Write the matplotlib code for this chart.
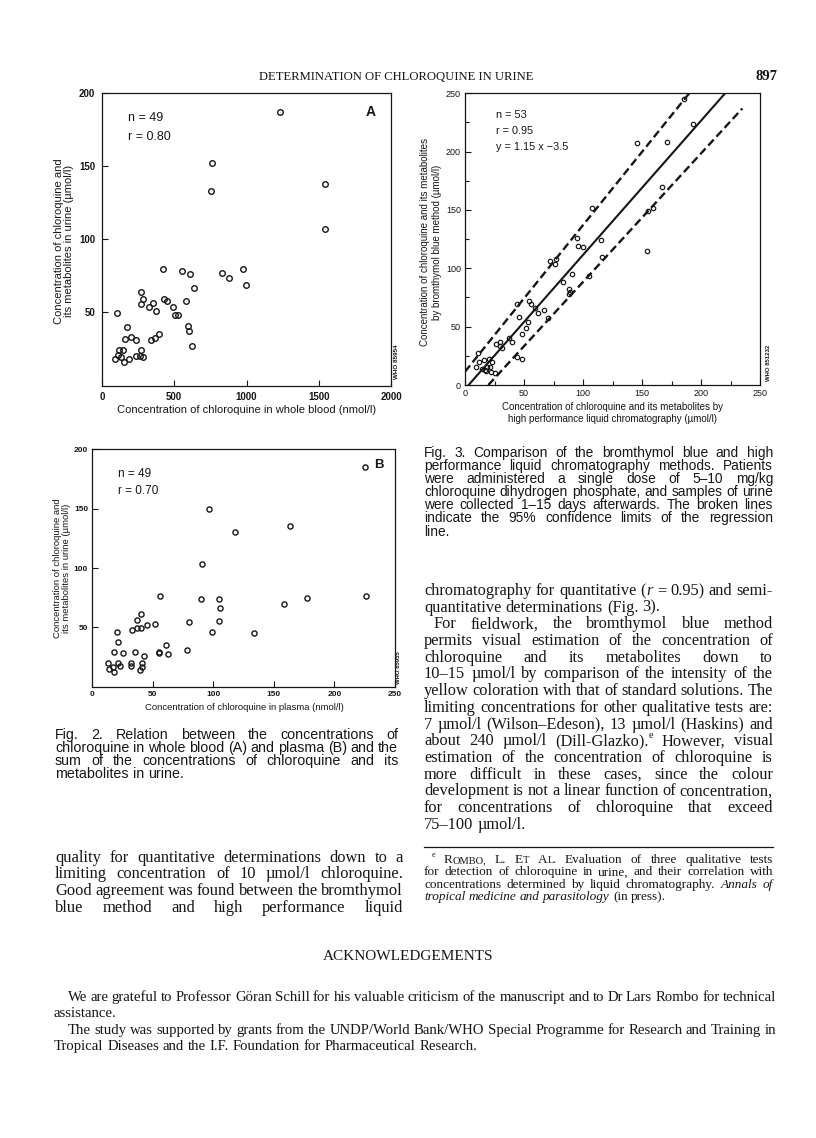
import matplotlib
matplotlib.use("Agg")
import matplotlib.pyplot as plt
from matplotlib.font_manager import FontProperties
from matplotlib.ticker import MultipleLocator

W, H = 816, 1138
SANS = "Liberation Sans"
SERIF = "Liberation Serif"
INK = "#161616"

# Fig. 2A: chloroquine in whole blood (nmol/l) vs chloroquine + metabolites in urine (umol/l)
blood_a = [1230, 760, 755, 1540, 1545,
           420, 551, 609, 639, 833, 881, 978, 994,
           268, 282, 268, 328, 351, 374, 429, 452, 493, 505, 528, 579,
           597, 604, 625, 101,
           159, 171, 201, 233, 339, 367, 392,
           90, 120, 143, 129, 154, 189, 233, 268, 282, 263, 112]
urine_a = [187, 152, 133, 138, 107,
           80, 78, 76, 67, 77, 73.5, 80, 69,
           64, 59, 55.7, 53.4, 56.3, 51, 59.3, 57.5, 53.4, 48, 48, 58,
           41, 37.6, 27, 49.5,
           31.7, 40, 33, 30.8, 30.8, 32.4, 34.9,
           18.3, 24, 24, 19.4, 16, 18.3, 20.5, 24, 19.4, 20.5, 21]

# Fig. 2B: chloroquine in plasma (nmol/l) vs urine (umol/l)
plasma_b = [225, 96, 163, 118, 91, 56, 90, 105, 105.5, 104.6, 79.6, 98.6, 133.3, 158, 177.3, 226.2,
            20.1, 21, 33, 36.7, 40.2, 37.2, 40.5, 45.4, 52,
            18.2, 25.6, 35, 60.9, 55.1, 54.8, 62.3, 78.5, 43,
            12.7, 21.2, 23.1, 13.5, 16.8, 18.2, 31.7, 32.2, 41.3, 40.8, 39.1]
urine_b = [185, 150, 135.7, 130, 103.4, 76.7, 74, 74, 66, 55.6, 54.5, 45.8, 45, 69.7, 75, 76.4,
           46, 37.4, 48, 56.2, 61.2, 49.5, 49.5, 52, 52.5,
           29, 28.4, 29.5, 35.4, 28.1, 29.5, 27.6, 31.2, 25.6,
           19.7, 20.2, 17.2, 14.7, 16.6, 12.4, 20.2, 17.4, 20.2, 16.8, 13.8]

# Fig. 3: HPLC (umol/l) vs bromthymol blue method (umol/l)
hplc = [186, 193, 146, 171, 167, 159, 155, 154, 115, 116, 108, 95, 96, 100,
        72, 77, 76, 91, 83, 88, 88, 89, 105, 54, 56, 59, 62, 67, 44, 46,
        52, 53, 48, 70, 37, 40, 30, 26, 30, 31, 44, 48,
        11, 12, 16, 20, 23, 9, 14, 19, 21, 17, 22, 25, 18]
btb = [245, 224, 207, 208, 170, 152, 149, 115, 124, 110, 152, 126, 119, 118,
       106, 108, 104, 95, 88, 82, 78, 80, 93, 72, 69, 66, 62, 64, 69, 58,
       49, 54, 44, 57, 40, 37, 37, 35, 33, 32, 24, 22,
       27, 20, 21, 22, 20, 15, 14, 15, 15, 13, 11, 10, 12]
reg_slope, reg_icept = 1.15, -3.5
upper_x, upper_y = [0, 190], [11.4, 250]
lower_x, lower_y = [19.8, 235], [0, 237]


def fx(x):
    return x / W


def fy(y):
    return 1 - y / H


def px_axes(fig, left, top, right, bottom):
    return fig.add_axes([fx(left), fy(bottom), (right - left) / W, (bottom - top) / H])


def style_axes(ax, size, weight, pad):
    for sp in ax.spines.values():
        sp.set_linewidth(0.9)
        sp.set_color(INK)
    ax.tick_params(which="both", direction="in", colors=INK, width=0.8, pad=pad)
    ax.tick_params(which="major", length=4)
    ax.tick_params(which="minor", length=3)
    for lbl in ax.get_xticklabels() + ax.get_yticklabels():
        lbl.set_fontfamily(SANS)
        lbl.set_fontsize(size)
        lbl.set_fontweight(weight)


def ftext(fig, x, y, s, **kw):
    kw.setdefault("color", INK)
    kw.setdefault("family", SANS)
    return fig.text(fx(x), fy(y), s, **kw)


def text_block(fig, rend, lines, x0, x1, y0, step, family, size):
    """Place lines word by word, justified between x0 and x1 (pixels)."""
    def segs_of(word, sz):
        out = []
        for s in word.split("|"):
            style, ssz, dy = "normal", sz, 0.0
            while s and s[0] in "*^~":
                c, s = s[0], s[1:]
                if c == "*":
                    style = "italic"
                elif c == "^":
                    ssz, dy = sz * 0.62, sz * 1.389 * 0.42
                else:
                    ssz = sz * 0.8
            fp = FontProperties(family=family, style=style, size=ssz)
            w = rend.get_text_width_height_descent(s, fp, ismath=False)[0]
            out.append((s, fp, w, dy))
        return out

    def layout(sz):
        fp = FontProperties(family=family, size=sz)
        sp = (rend.get_text_width_height_descent("x x", fp, ismath=False)[0]
              - rend.get_text_width_height_descent("xx", fp, ismath=False)[0])
        rows = []
        for txt, just, indent in lines:
            words = [segs_of(w, sz) for w in txt.split()]
            widths = [sum(s[2] for s in wd) for wd in words]
            rows.append((words, widths, just, indent))
        return sp, rows

    sz = size
    for _ in range(6):
        sp, rows = layout(sz)
        worst = max((sum(r[1]) + sp * 0.8 * (len(r[1]) - 1)) / (x1 - x0 - r[3]) for r in rows)
        if worst <= 1.0:
            break
        sz *= 0.99 / worst
    for i, (words, widths, just, indent) in enumerate(rows):
        y = y0 + i * step
        start = x0 + indent
        if just and len(words) > 1:
            gap = (x1 - start - sum(widths)) / (len(words) - 1)
        else:
            gap = sp
        x = start
        for wd, w in zip(words, widths):
            xx = x
            for s, fp, sw, dy in wd:
                fig.text(fx(xx), fy(y) + dy / H, s, fontproperties=fp, color=INK,
                         ha="left", va="baseline")
                xx += sw
            x += w + gap


fig = plt.figure(figsize=(W / 100, H / 100), dpi=100)
fig.patch.set_facecolor("white")
rend = fig.canvas.get_renderer()

mk = dict(ls="none", marker="o", mfc="none", mec=INK)

# ---------------- Fig. 2A ----------------
axA = px_axes(fig, 102, 93, 391, 385.5)
axA.plot(blood_a, urine_a, ms=4.0, mew=1.0, **mk)
axA.set_xlim(0, 2000)
axA.set_ylim(0, 200)
axA.set_xticks([0, 500, 1000, 1500, 2000])
axA.set_yticks([50, 100, 150, 200])
style_axes(axA, 7, "bold", 5)
ftext(fig, 128, 118, "n = 49", fontsize=9, va="center")
ftext(fig, 128, 137, "r = 0.80", fontsize=9, va="center")
ftext(fig, 371, 112, "A", fontsize=10, fontweight="bold", ha="center", va="center")
ftext(fig, 247, 410, "Concentration of chloroquine in whole blood (nmol/l)",
      fontsize=8, ha="center", va="center")
ftext(fig, 64, 241, "Concentration of chloroquine and\nits metabolites in urine (\u00b5mol/l)",
      fontsize=8, rotation=90, ha="center", va="center", multialignment="center", linespacing=1.05)
ftext(fig, 397, 362, "WHO 85954", fontsize=4.5, fontweight="bold", rotation=90,
      ha="center", va="center")

# ---------------- Fig. 2B ----------------
axB = px_axes(fig, 92.3, 449.3, 395, 686.7)
axB.plot(plasma_b, urine_b, ms=3.7, mew=1.0, **mk)
axB.set_xlim(0, 250)
axB.set_ylim(0, 200)
axB.set_xticks([0, 50, 100, 150, 200, 250])
axB.set_yticks([50, 100, 150, 200])
style_axes(axB, 6, "bold", 3)
ftext(fig, 118, 474, "n = 49", fontsize=8.5, va="center")
ftext(fig, 118, 491, "r = 0.70", fontsize=8.5, va="center")
ftext(fig, 379, 465, "B", fontsize=9.5, fontweight="bold", ha="center", va="center")
ftext(fig, 244, 708, "Concentration of chloroquine in plasma (nmol/l)",
      fontsize=6.8, ha="center", va="center")
ftext(fig, 62, 568, "Concentration of chloroquine and\nits metabolites in urine (\u00b5mol/l)",
      fontsize=6.8, rotation=90, ha="center", va="center", multialignment="center", linespacing=1.1)
ftext(fig, 398, 668, "WHO 85955", fontsize=4.3, fontweight="bold", rotation=90,
      ha="center", va="center")

# ---------------- Fig. 3 ----------------
ax3 = px_axes(fig, 465, 93.3, 760, 385)
reg_x = [(0 - reg_icept) / reg_slope, (250 - reg_icept) / reg_slope]
ax3.plot(reg_x, [reg_slope * v + reg_icept for v in reg_x], color=INK, lw=1.5)
dash = (0, (3.4, 1.7))
ax3.plot(upper_x, upper_y, color=INK, lw=1.7, ls=dash)
ax3.plot(lower_x, lower_y, color=INK, lw=1.7, ls=dash)
ax3.plot(hplc, btb, ms=3.2, mew=0.85, **mk)
ax3.set_xlim(0, 250)
ax3.set_ylim(0, 250)
ax3.set_xticks([0, 50, 100, 150, 200, 250])
ax3.set_yticks([0, 50, 100, 150, 200, 250])
ax3.xaxis.set_minor_locator(MultipleLocator(25))
ax3.yaxis.set_minor_locator(MultipleLocator(25))
style_axes(ax3, 6.5, "normal", 3)
ftext(fig, 496, 115, "n = 53", fontsize=7.8, va="center")
ftext(fig, 496, 131, "r = 0.95", fontsize=7.8, va="center")
ftext(fig, 496, 147, "y = 1.15 x \u22123.5", fontsize=7.8, va="center")
ftext(fig, 613, 413, "Concentration of chloroquine and its metabolites by\n"
      "high performance liquid chromatography (\u00b5mol/l)",
      fontsize=7, ha="center", va="center", multialignment="center", linespacing=1.15)
ftext(fig, 431, 242, "Concentration of chloroquine and its metabolites\n"
      "by bromthymol blue method (\u00b5mol/l)",
      fontsize=7, rotation=90, ha="center", va="center", multialignment="center", linespacing=1.15)
ftext(fig, 769, 363, "WHO 851232", fontsize=4.3, fontweight="bold", rotation=90,
      ha="center", va="center")

# ---------------- page text ----------------
ftext(fig, 396, 80, "DETERMINATION OF CHLOROQUINE IN URINE", family=SERIF,
      fontsize=9.1, ha="center", va="baseline")
ftext(fig, 767, 80, "897", family=SERIF, fontsize=10.5, fontweight="bold",
      ha="center", va="baseline")

fig3_caption = [
    ("Fig. 3. Comparison of the bromthymol blue and high", True, 0),
    ("performance liquid chromatography methods. Patients", True, 0),
    ("were administered a single dose of 5\u201310 mg/kg", True, 0),
    ("chloroquine dihydrogen phosphate, and samples of urine", True, 0),
    ("were collected 1\u201315 days afterwards. The broken lines", True, 0),
    ("indicate the 95% confidence limits of the regression", True, 0),
    ("line.", False, 0),
]
text_block(fig, rend, fig3_caption, 424, 773, 457, 13.1, SANS, 10.5)

fig2_caption = [
    ("Fig. 2.  Relation between the concentrations of", True, 0),
    ("chloroquine in whole blood (A) and plasma (B) and the", True, 0),
    ("sum of the concentrations of chloroquine and its", True, 0),
    ("metabolites in urine.", False, 0),
]
text_block(fig, rend, fig2_caption, 55, 398, 739, 13.1, SANS, 10.5)

right_body = [
    ("chromatography for quantitative (|*r = 0.95) and semi-", True, 0),
    ("quantitative determinations (Fig. 3).", False, 0),
    ("For fieldwork, the bromthymol blue method", True, 10),
    ("permits visual estimation of the concentration of", True, 0),
    ("chloroquine and its metabolites down to", True, 0),
    ("10\u201315 \u00b5mol/l by comparison of the intensity of the", True, 0),
    ("yellow coloration with that of standard solutions. The", True, 0),
    ("limiting concentrations for other qualitative tests are:", True, 0),
    ("7 \u00b5mol/l (Wilson\u2013Edeson), 13 \u00b5mol/l (Haskins) and", True, 0),
    ("about 240 \u00b5mol/l (Dill-Glazko).|^e However, visual", True, 0),
    ("estimation of the concentration of chloroquine is", True, 0),
    ("more difficult in these cases, since the colour", True, 0),
    ("development is not a linear function of concentration,", True, 0),
    ("for concentrations of chloroquine that exceed", True, 0),
    ("75\u2013100 \u00b5mol/l.", False, 0),
]
text_block(fig, rend, right_body, 424, 773, 595, 16.7, SERIF, 12)

fig.add_artist(plt.Line2D([fx(424), fx(773)], [fy(847), fy(847)], color=INK, lw=0.9))
footnote = [
    ("^e R|~OMBO, L. E|~T A|~L. Evaluation of three qualitative tests", True, 8),
    ("for detection of chloroquine in urine, and their correlation with", True, 0),
    ("concentrations determined by liquid chromatography. *Annals *of", True, 0),
    ("*tropical *medicine *and *parasitology (in press).", False, 0),
]
text_block(fig, rend, footnote, 424, 773, 863, 12.3, SERIF, 9.5)

left_body = [
    ("quality for quantitative determinations down to a", True, 0),
    ("limiting concentration of 10 \u00b5mol/l chloroquine.", True, 0),
    ("Good agreement was found between the bromthymol", True, 0),
    ("blue method and high performance liquid", True, 0),
]
text_block(fig, rend, left_body, 55, 403, 862, 16.5, SERIF, 13)

ftext(fig, 408, 960, "ACKNOWLEDGEMENTS", family=SERIF, fontsize=11,
      ha="center", va="baseline")
acknowledgements = [
    ("We are grateful to Professor G\u00f6ran Schill for his valuable criticism of the manuscript "
     "and to Dr Lars Rombo for technical", True, 14),
    ("assistance.", False, 0),
    ("The study was supported by grants from the UNDP/World Bank/WHO Special Programme "
     "for Research and Training in", True, 14),
    ("Tropical Diseases and the I.F. Foundation for Pharmaceutical Research.", False, 0),
]
text_block(fig, rend, acknowledgements, 54, 776, 1001, 16.4, SERIF, 11)

fig.savefig("out.png", dpi=100, facecolor="white")
